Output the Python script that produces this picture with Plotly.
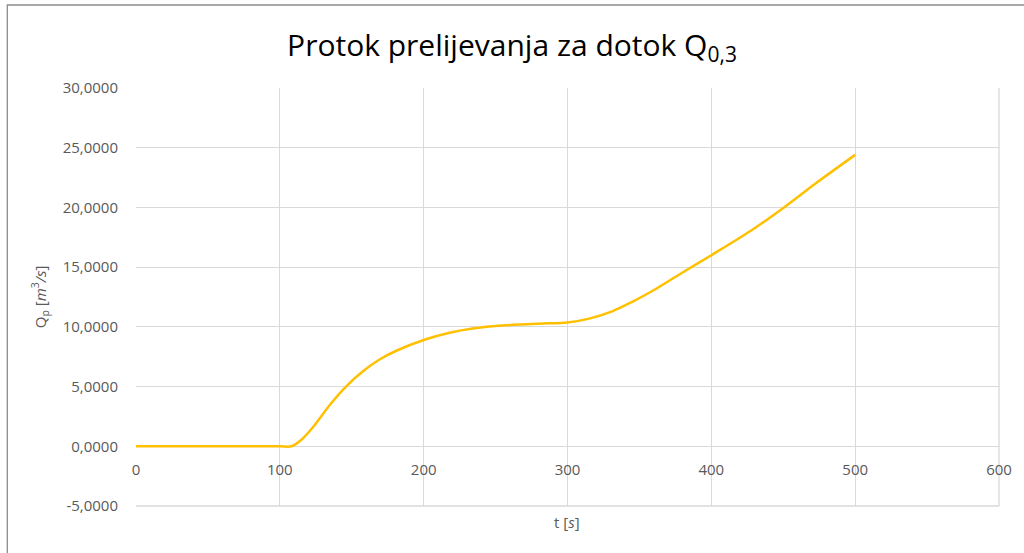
import plotly.graph_objects as go

# data
t_s = [0, 50, 100, 108, 115, 123, 135, 146, 158, 169, 181, 200, 218, 234, 257, 280,
       300, 315, 331, 345, 359, 382, 400, 428, 451, 474, 500]
q_p = [0, 0, 0, 0, 0.55, 1.6, 3.5, 5.0, 6.3, 7.25, 8.0, 8.9, 9.5, 9.86, 10.13, 10.27,
       10.36, 10.69, 11.3, 12.1, 13.0, 14.7, 16.0, 18.09, 20.04, 22.14, 24.4]

x_ticks = [0, 100, 200, 300, 400, 500, 600]
y_ticks = [-5, 0, 5, 10, 15, 20, 25, 30]
y_tick_labels = ["-5,0000", "0,0000", "5,0000", "10,0000", "15,0000",
                 "20,0000", "25,0000", "30,0000"]

title_text = "Protok prelijevanja za dotok Q<sub>0,3</sub>"
x_title = "t [<i>s</i>]"
y_title = "Q<sub>p</sub> [<i>m</i><sup>3</sup><i>/s</i>]"

FONT = "Open Sans"
TICK_COLOR = "#595959"
GRID = "#d9d9d9"

fig = go.Figure()
fig.add_trace(go.Scatter(
    x=t_s, y=q_p, mode="lines",
    line=dict(color="#FFC000", width=2.5, shape="spline", smoothing=0.8),
    hoverinfo="x+y", showlegend=False,
))

W, H = 1024, 553
ml, mr, mt, mb = 136, 23, 88, 47
ymin, ymax = -5, 30
zero_pos = (0 - ymin) / (ymax - ymin)
PW, PH = W - ml - mr, H - mt - mb

fig.update_layout(
    width=W, height=H,
    margin=dict(l=ml, r=mr, t=mt, b=mb, pad=0),
    paper_bgcolor="white", plot_bgcolor="white",
    font=dict(family=FONT, color=TICK_COLOR, size=15),
    title=dict(text=title_text, x=0.5, xanchor="center", y=1 - 45 / H, yanchor="middle",
               font=dict(family=FONT, size=30, color="#000000")),
    xaxis=dict(range=[0, 600], tickvals=x_ticks, ticktext=[str(v) for v in x_ticks],
               showgrid=True, gridcolor=GRID, gridwidth=1.3,
               zeroline=False, showline=True, linecolor=GRID, linewidth=1.3,
               anchor="free", position=zero_pos, ticks="", ticklabelstandoff=10,
               layer="below traces",
               tickfont=dict(family=FONT, size=15, color=TICK_COLOR)),
    yaxis=dict(range=[ymin, ymax], tickvals=y_ticks, ticktext=y_tick_labels,
               showgrid=True, gridcolor=GRID, gridwidth=1.3,
               zeroline=False, showline=False, ticks="",
               ticklabelstandoff=17, layer="below traces",
               tickfont=dict(family=FONT, size=15, color=TICK_COLOR)),
    annotations=[
        dict(text=x_title, xref="paper", yref="paper", x=(568 - ml) / PW,
             y=-(522 - (H - mb)) / PH, xanchor="center", yanchor="middle",
             showarrow=False, font=dict(family=FONT, size=15, color=TICK_COLOR)),
        dict(text=y_title, xref="paper", yref="paper", x=-(ml - 39) / PW,
             y=0.5, xanchor="center", yanchor="middle", textangle=-90,
             showarrow=False, font=dict(family=FONT, size=15, color=TICK_COLOR)),
    ],
    shapes=[
        dict(type="rect", xref="paper", yref="paper",
             x0=-(ml - 7) / PW, x1=1.2,
             y0=-0.5, y1=1 + (mt - 5) / PH,
             line=dict(color="#8c8c8c", width=1.3), fillcolor="rgba(0,0,0,0)",
             layer="above"),
        dict(type="line", xref="paper", yref="paper", x0=1, x1=1, y0=0, y1=1,
             line=dict(color=GRID, width=1.3), layer="below"),
        dict(type="line", xref="paper", yref="paper", x0=0, x1=1, y0=0, y1=0,
             line=dict(color=GRID, width=1.3), layer="below"),
    ],
)

fig.write_html("out.html", config={"displayModeBar": False},
               post_script="document.body.style.margin='0';")
